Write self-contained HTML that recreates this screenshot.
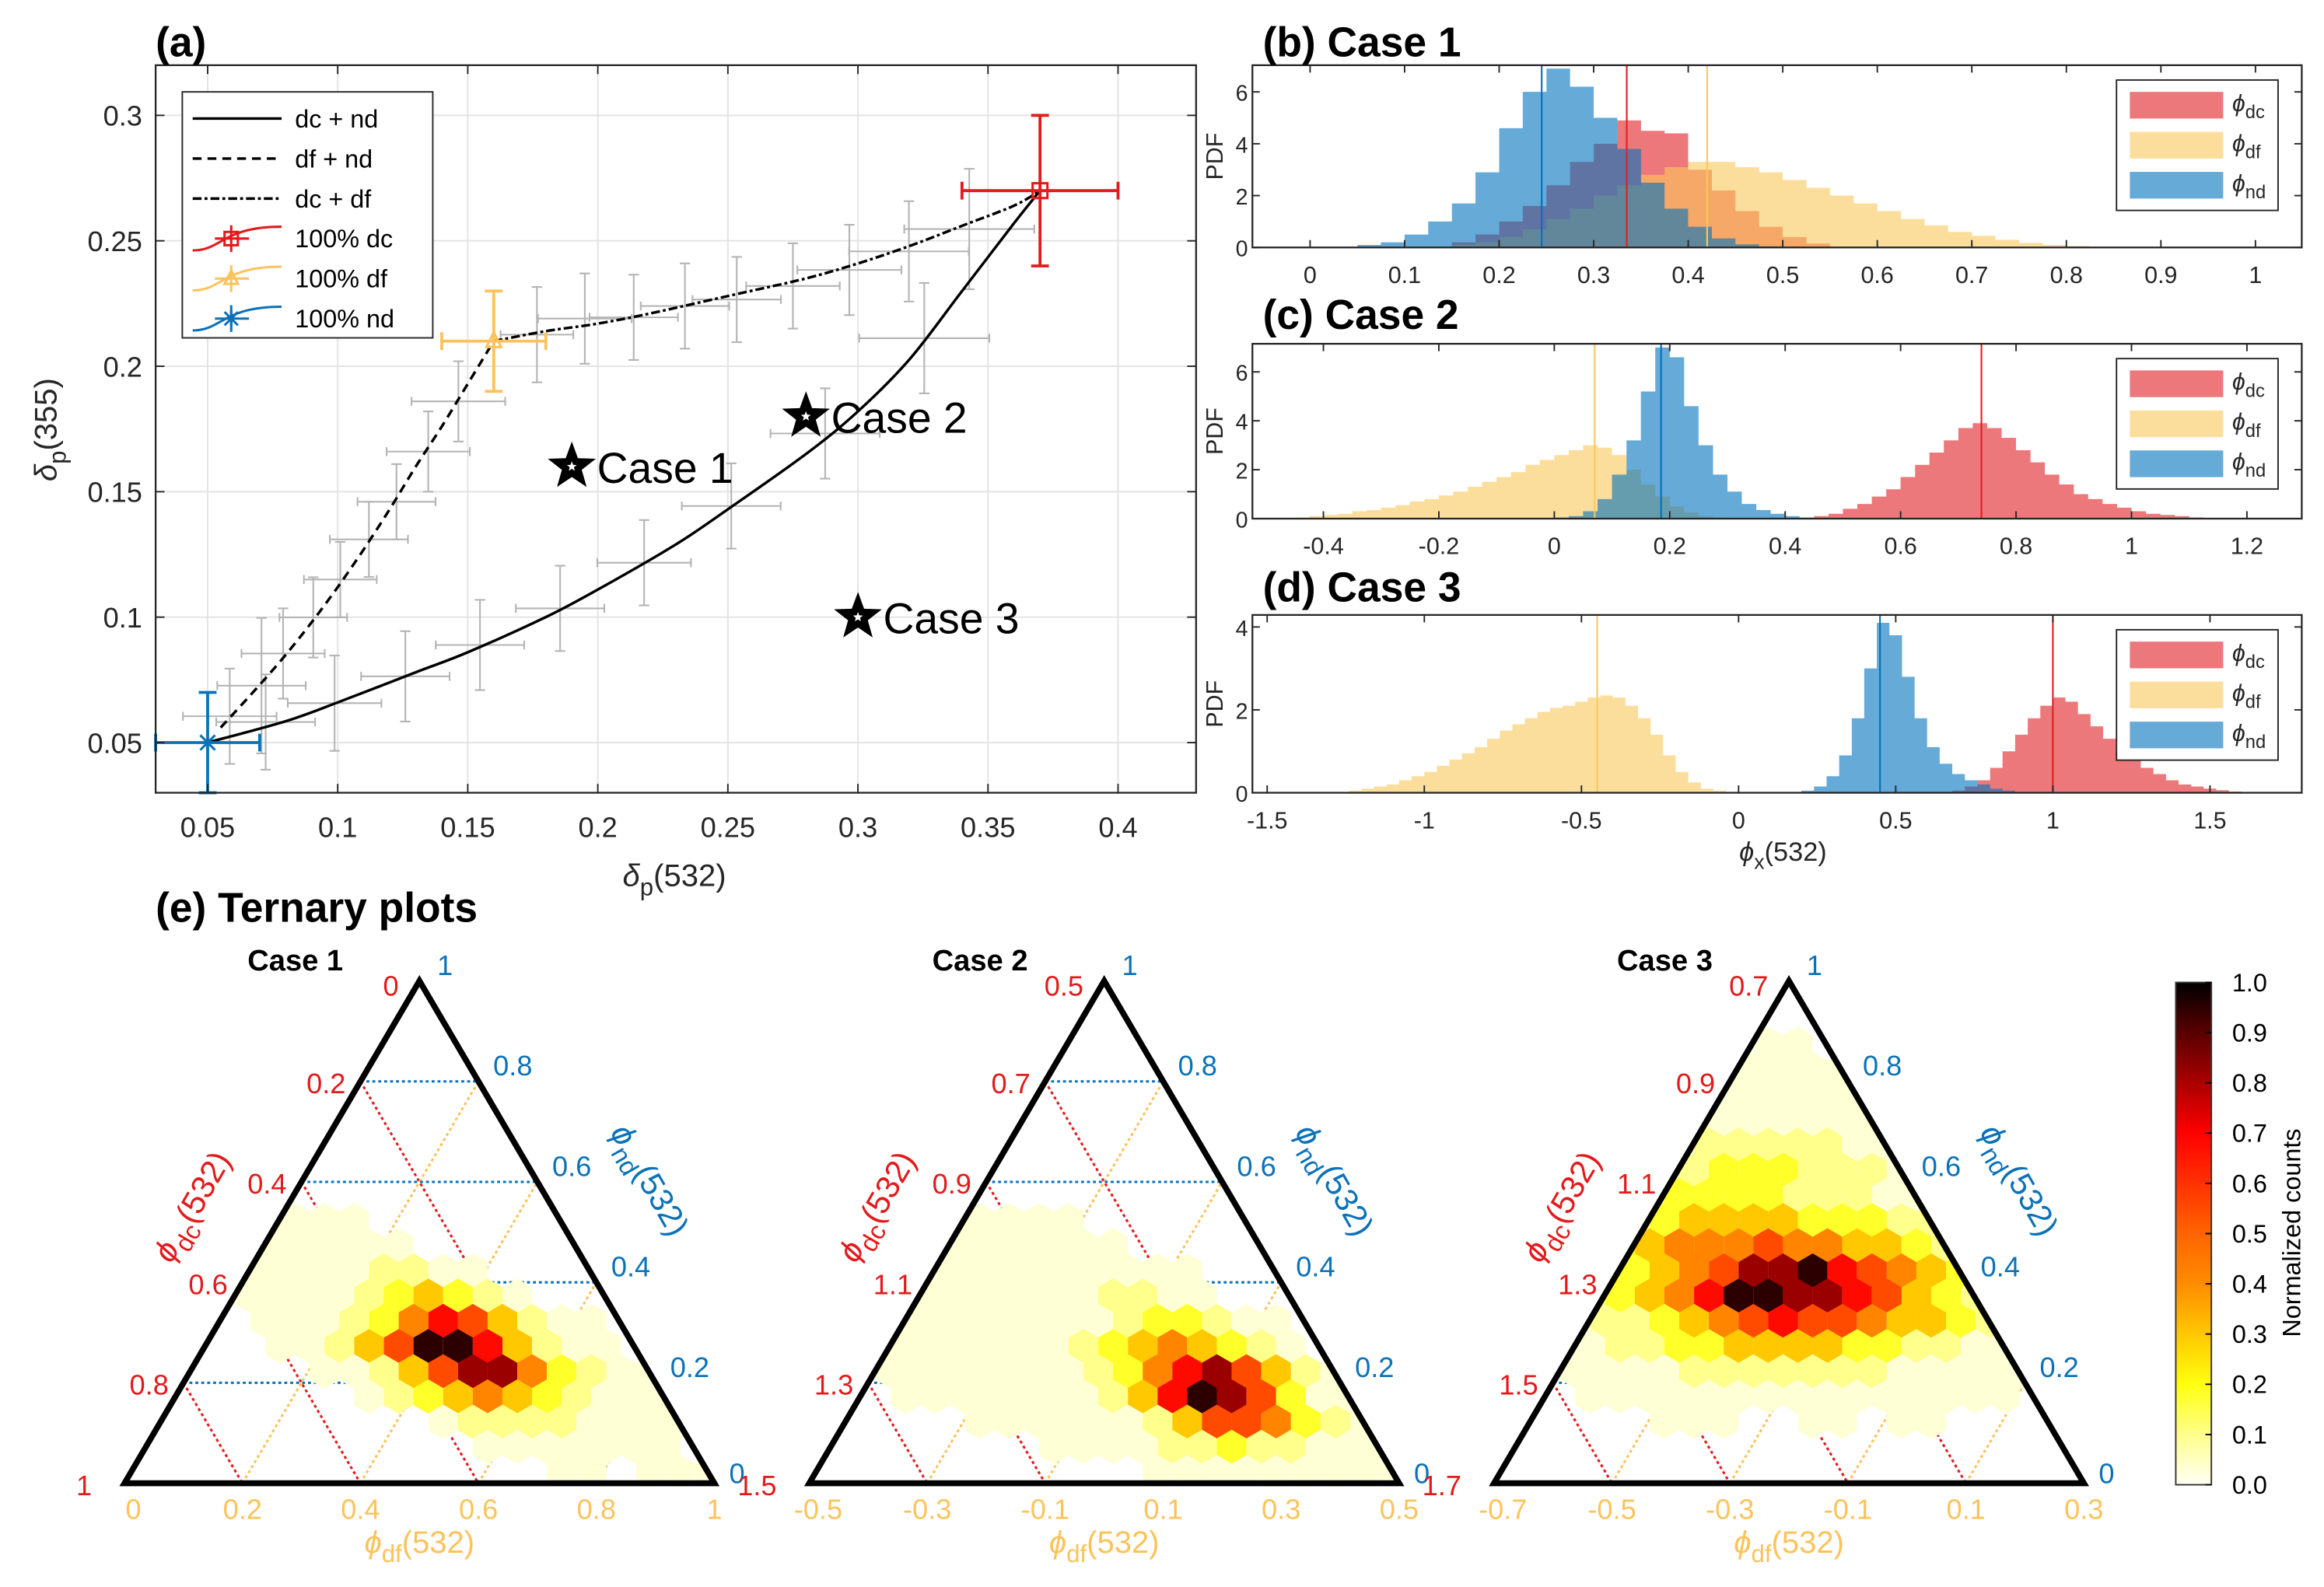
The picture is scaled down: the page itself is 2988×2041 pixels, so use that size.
<!DOCTYPE html>
<html><head><meta charset="utf-8"><style>
html,body{margin:0;padding:0;background:#fff;}
svg{display:block;}
text{font-family:"Liberation Sans",Arial,sans-serif;}
</style></head><body>
<svg id="fig" xmlns="http://www.w3.org/2000/svg" width="2988" height="2041" viewBox="0 0 1568 1071" preserveAspectRatio="none">
<defs>
<linearGradient id="cbgrad" x1="0" y1="1" x2="0" y2="0">
<stop offset="0" stop-color="#fffff5"/><stop offset="0.1" stop-color="#ffff8c"/><stop offset="0.2" stop-color="#ffff10"/>
<stop offset="0.3" stop-color="#ffc800"/><stop offset="0.4" stop-color="#ff8c00"/><stop offset="0.5" stop-color="#ff6400"/>
<stop offset="0.6" stop-color="#ff3200"/><stop offset="0.7" stop-color="#ff0000"/><stop offset="0.8" stop-color="#aa0000"/>
<stop offset="0.9" stop-color="#5a0000"/><stop offset="1" stop-color="#000000"/>
</linearGradient>
</defs>
<rect width="1568" height="1071" fill="#fff"/>
</svg>
<script>
// ---------- Panel (a) data ----------
const aSolidX=[0.05,0.08,0.1,0.13,0.15,0.18,0.2,0.23,0.25,0.28,0.3,0.32,0.34,0.36,0.37];
const aSolidY=[0.05,0.0585,0.066,0.078,0.086,0.1,0.111,0.129,0.143,0.165,0.182,0.203,0.23,0.257,0.27];
const aDashX=[0.055,0.07,0.08,0.09,0.1,0.11,0.12,0.13,0.14,0.15,0.16];
const aDashY=[0.056,0.073,0.085,0.098,0.112,0.127,0.143,0.16,0.176,0.193,0.21];
const aDDX=[0.16,0.18,0.2,0.22,0.25,0.28,0.3,0.32,0.34,0.36,0.37];
const aDDY=[0.21,0.214,0.217,0.221,0.228,0.235,0.241,0.248,0.256,0.264,0.27];
const gX=[0.0585,0.0707,0.079,0.0906,0.101,0.112,0.1226,0.1348,0.1464,0.1766,0.195,0.2138,0.2335,0.2534,0.275,0.2967,0.3196,0.3428,0.0723,0.0988,0.126,0.1547,0.1855,0.2178,0.2513,0.2874,0.3255];
const gY=[0.0605,0.0727,0.0855,0.0999,0.115,0.131,0.146,0.166,0.186,0.2126,0.219,0.2195,0.224,0.2266,0.232,0.2384,0.2458,0.2547,0.0582,0.0657,0.0764,0.0889,0.1035,0.1217,0.1443,0.1732,0.2112];
const gXe=[0.018,0.017,0.016,0.013,0.014,0.015,0.015,0.016,0.018,0.014,0.018,0.017,0.017,0.017,0.018,0.02,0.023,0.025,0.019,0.018,0.017,0.017,0.017,0.018,0.019,0.021,0.025];
const gYe=[0.019,0.027,0.018,0.016,0.015,0.015,0.015,0.016,0.016,0.019,0.018,0.017,0.017,0.017,0.017,0.018,0.02,0.024,0.019,0.019,0.018,0.018,0.017,0.017,0.017,0.018,0.022];
const emNames=['dc','df','nd'];
const emX=[0.37,0.16,0.05];
const emY=[0.27,0.21,0.05];
const emXe=[0.03,0.02,0.02];
const emYe=[0.03,0.02,0.02];
const caseNames=['Case 1','Case 2','Case 3'];
const caseX=[0.19,0.28,0.3];
const caseY=[0.16,0.18,0.1];
const aXTicks=[0.05,0.1,0.15,0.2,0.25,0.3,0.35,0.4];
const aYTicks=[0.05,0.1,0.15,0.2,0.25,0.3];

// ---------- Histogram data ----------
const bW=0.025;
const bDcStart=0.15, bDc=[0.2,0.5,1.0,1.6,2.4,3.3,4.0,4.9,4.5,4.4,3.0,2.2,1.4,0.8,0.4,0.15];
const bDfStart=0.15, bDf=[0.1,0.2,0.4,0.7,1.1,1.5,2.0,2.4,2.8,3.1,3.3,3.3,3.1,2.9,2.6,2.3,2.0,1.7,1.4,1.1,0.85,0.6,0.45,0.3,0.18,0.1,0.05];
const bNdStart=0.05, bNd=[0.1,0.2,0.5,1.0,1.7,2.9,4.6,6.0,6.9,6.2,5.0,3.8,2.5,1.5,0.8,0.35,0.12,0.04];
const cW=0.025;
const cDcStart=0.45, cDc=[0.1,0.2,0.4,0.6,0.9,1.2,1.7,2.2,2.7,3.2,3.7,3.9,3.7,3.3,2.8,2.3,1.8,1.4,1.0,0.8,0.6,0.45,0.3,0.2,0.15,0.1,0.05];
const cDfStart=-0.45, cDf=[0.05,0.1,0.15,0.2,0.3,0.35,0.45,0.55,0.7,0.8,0.95,1.1,1.3,1.5,1.7,1.9,2.2,2.4,2.6,2.8,3.0,2.9,2.6,2.0,1.4,0.9,0.5,0.25,0.1,0.05];
const cNdStart=0.0, cNd=[0.05,0.1,0.3,0.8,1.8,3.2,5.2,7.0,6.6,4.6,3.0,1.8,1.1,0.6,0.35,0.2,0.1,0.05];
const dW=0.04;
const dDfStart=-1.24, dDf=[0.05,0.1,0.15,0.2,0.3,0.4,0.5,0.65,0.8,0.95,1.1,1.3,1.5,1.65,1.8,1.95,2.05,2.1,2.2,2.3,2.35,2.3,2.1,1.8,1.4,0.9,0.5,0.25,0.1,0.05];
const dNdStart=0.2, dNd=[0.05,0.15,0.4,0.9,1.8,3.0,4.1,3.8,2.8,1.8,1.1,0.7,0.45,0.3,0.2,0.1,0.05];
const dDcStart=0.68, dDc=[0.05,0.15,0.3,0.6,1.0,1.4,1.8,2.1,2.3,2.2,1.9,1.6,1.3,1.0,0.8,0.6,0.45,0.3,0.2,0.15,0.1,0.06,0.03];
const bMed=[0.335,0.42,0.245], cMed=[0.74,0.07,0.185], dMed=[1.0,-0.45,0.45];
const bXTicks=[0,0.1,0.2,0.3,0.4,0.5,0.6,0.7,0.8,0.9,1], bYTicks=[0,2,4,6];
const cXTicks=[-0.4,-0.2,0,0.2,0.4,0.6,0.8,1,1.2], cYTicks=[0,2,4,6];
const dXTicks=[-1.5,-1,-0.5,0,0.5,1,1.5], dYTicks=[0,2,4];

// ---------- Ternary data ----------
const dcLabels=[['0','0.2','0.4','0.6','0.8','1'],['0.5','0.7','0.9','1.1','1.3','1.5'],['0.7','0.9','1.1','1.3','1.5','1.7']];
const dfLabels=[['0','0.2','0.4','0.6','0.8','1'],['-0.5','-0.3','-0.1','0.1','0.3','0.5'],['-0.7','-0.5','-0.3','-0.1','0.1','0.3']];
const ndLabels=['0','0.2','0.4','0.6','0.8','1'];
const hex1=["00000000000000000000","00000000000000000000","00000000000000000000","00000000000000000000","00000000000000000000","00000000000000000000","00000000000000000000","00000000000000000000","00000100000000000000","00001111000000000000","00011111110000000000","00011111221100000000","00011111234321000000","00001112357642110000","00000112469974211000","00000011246885321100","00000000123454321110","00000000001222211110","00000000000011111110","00000000000000110111"];
const hex2=["00000000000000000000","00000000000000000000","00000000000000000000","00000000000000000000","00000000000000000000","00000000000000000000","00000000000000000000","00000000000000000000","00000000000000000000","00001111100000000000","00011111111000000000","00111111111110000000","01111111112211000000","01111111112332110000","00111111123454321000","00111111123578642100","00011111112479863110","00000111111246653210","00000000111122322111","00000000000111111111"];
const hex3=["00000000000000000000","00000000000000000000","00000000011000000000","00000001111110000000","00000011111111000000","00000111111111100000","00001112222211110000","00011223332221111000","00112233332221111100","01122344443332211110","01223455565544322111","01233456889765432111","01223457998876432211","01122345676654432111","00112233444433221111","00111122222221111110","00011111111111111100","00000111001101100000","00000000000000000000","00000000000000000000"];
const hexGrids=[hex1,hex2,hex3];
const levels=[0,0.03,0.1,0.18,0.3,0.42,0.55,0.68,0.82,0.95];
const cbTicks=[0,0.1,0.2,0.3,0.4,0.5,0.6,0.7,0.8,0.9,1.0];

// ---------- helpers ----------
const NS='http://www.w3.org/2000/svg';
const svg=document.getElementById('fig');
function mk(tag,parent,attrs){const e=document.createElementNS(NS,tag);if(attrs)for(const k in attrs)e.setAttribute(k,attrs[k]);(parent||svg).appendChild(e);return e;}
function txt(parent,x,y,s,size,fill,anchor,weight){const t=mk('text',parent,{x:x,y:y,'font-size':size,fill:fill||'#000','text-anchor':anchor||'start','font-weight':weight||'normal'});t.textContent=s;return t;}
function fmt(v){return (Math.round(v*100)/100).toString();}

// ---------- Panel (a) ----------
const A={x0:105,x1:807,y0:44,y1:535,xmin:0.03,xmax:0.43,ymin:0.03,ymax:0.32};
const xa=v=>A.x0+(v-A.xmin)/(A.xmax-A.xmin)*(A.x1-A.x0);
const ya=v=>A.y1-(v-A.ymin)/(A.ymax-A.ymin)*(A.y1-A.y0);
const gA=mk('g');


aXTicks.forEach(v=>{const l=mk('line',gA,{x1:xa(v),x2:xa(v),y1:A.y0,y2:A.y1,stroke:'#e3e3e3','stroke-width':1});
});
aYTicks.forEach(v=>{const l=mk('line',gA,{x1:A.x0,x2:A.x1,y1:ya(v),y2:ya(v),stroke:'#e3e3e3','stroke-width':1});
});
gX.forEach((x,i)=>{const g=mk('g',gA,{stroke:'#b4b4b4','stroke-width':1.1,fill:'none'});

const cx=xa(x),cy=ya(gY[i]),xl=xa(x-gXe[i]),xr=xa(x+gXe[i]),yt=ya(gY[i]+gYe[i]),yb=ya(gY[i]-gYe[i]);
mk('line',g,{x1:xl,x2:xr,y1:cy,y2:cy});mk('line',g,{x1:cx,x2:cx,y1:yt,y2:yb});
mk('line',g,{x1:xl,x2:xl,y1:cy-3,y2:cy+3});mk('line',g,{x1:xr,x2:xr,y1:cy-3,y2:cy+3});
mk('line',g,{x1:cx-3.5,x2:cx+3.5,y1:yt,y2:yt});mk('line',g,{x1:cx-3.5,x2:cx+3.5,y1:yb,y2:yb});});
function poly(xs,ys){let d='M'+xa(xs[0]).toFixed(1)+' '+ya(ys[0]).toFixed(1);
 for(let i=1;i<xs.length;i++){const p0=[xa(xs[Math.max(i-2,0)]),ya(ys[Math.max(i-2,0)])],p1=[xa(xs[i-1]),ya(ys[i-1])],p2=[xa(xs[i]),ya(ys[i])],p3=[xa(xs[Math.min(i+1,xs.length-1)]),ya(ys[Math.min(i+1,xs.length-1)])];
  const c1=[p1[0]+(p2[0]-p0[0])/6,p1[1]+(p2[1]-p0[1])/6],c2=[p2[0]-(p3[0]-p1[0])/6,p2[1]-(p3[1]-p1[1])/6];
  d+=`C${c1[0].toFixed(1)} ${c1[1].toFixed(1)} ${c2[0].toFixed(1)} ${c2[1].toFixed(1)} ${p2[0].toFixed(1)} ${p2[1].toFixed(1)}`;}
 return d;}
const cS=mk('path',gA,{d:poly(aSolidX,aSolidY),fill:'none',stroke:'#000','stroke-width':1.8});

const cD=mk('path',gA,{d:poly(aDashX,aDashY),fill:'none',stroke:'#000','stroke-width':1.8,'stroke-dasharray':'6 4'});

const cDD=mk('path',gA,{d:poly(aDDX,aDDY),fill:'none',stroke:'#000','stroke-width':1.8,'stroke-dasharray':'6 2 2 2'});

const emCol=['#e31a1c','#fdc35a','#0b72b8'];
function marker(g,k,cx,cy,col,s){
 if(k===0)mk('rect',g,{x:cx-s,y:cy-s,width:2*s,height:2*s,fill:'none',stroke:col,'stroke-width':1.6});
 else if(k===1)mk('path',g,{d:`M${cx} ${cy-s*1.2}L${cx+s} ${cy+s*0.8}L${cx-s} ${cy+s*0.8}Z`,fill:'none',stroke:col,'stroke-width':1.6});
 else{mk('path',g,{d:`M${cx-s} ${cy-s}L${cx+s} ${cy+s}M${cx-s} ${cy+s}L${cx+s} ${cy-s}M${cx} ${cy-s*1.2}L${cx} ${cy+s*1.2}`,stroke:col,'stroke-width':1.6});}}
emX.forEach((x,i)=>{const g=mk('g',gA,{stroke:emCol[i],'stroke-width':2,fill:'none'});

const cx=xa(x),cy=ya(emY[i]),xl=xa(x-emXe[i]),xr=xa(x+emXe[i]),yt=ya(emY[i]+emYe[i]),yb=ya(emY[i]-emYe[i]);
mk('line',g,{x1:xl,x2:xr,y1:cy,y2:cy});mk('line',g,{x1:cx,x2:cx,y1:yt,y2:yb});
mk('line',g,{x1:xl,x2:xl,y1:cy-6,y2:cy+6});mk('line',g,{x1:xr,x2:xr,y1:cy-6,y2:cy+6});
mk('line',g,{x1:cx-6,x2:cx+6,y1:yt,y2:yt});mk('line',g,{x1:cx-6,x2:cx+6,y1:yb,y2:yb});
marker(g,i,cx,cy,emCol[i],5);});
function starPts(cx,cy,R,r){let p=[];for(let k=0;k<10;k++){const a=-Math.PI/2+k*Math.PI/5,rr=k%2?r:R;p.push((cx+rr*Math.cos(a)).toFixed(1)+','+(cy+rr*Math.sin(a)).toFixed(1));}return p.join(' ');}
caseX.forEach((x,i)=>{const g=mk('g',gA);
const cx=xa(x),cy=ya(caseY[i]);mk('polygon',g,{points:starPts(cx,cy,17,7),fill:'#000'});mk('polygon',g,{points:starPts(cx,cy,3.5,1.5),fill:'#fff'});
const t=txt(g,cx+17,cy+11,caseNames[i],29,'#000');});
const fr=mk('rect',gA,{x:A.x0,y:A.y0,width:A.x1-A.x0,height:A.y1-A.y0,fill:'none',stroke:'#262626','stroke-width':1.2});

aXTicks.forEach(v=>{mk('line',gA,{x1:xa(v),x2:xa(v),y1:A.y1,y2:A.y1-6,stroke:'#262626'});mk('line',gA,{x1:xa(v),x2:xa(v),y1:A.y0,y2:A.y0+6,stroke:'#262626'});
const t=txt(gA,xa(v),A.y1+30,fmt(v),19,'#262626','middle');});
aYTicks.forEach(v=>{mk('line',gA,{x1:A.x0,x2:A.x0+6,y1:ya(v),y2:ya(v),stroke:'#262626'});mk('line',gA,{x1:A.x1,x2:A.x1-6,y1:ya(v),y2:ya(v),stroke:'#262626'});
const t=txt(gA,A.x0-9,ya(v)+7,fmt(v),19,'#262626','end');});
const lg=mk('g',gA);
mk('rect',lg,{x:123,y:62,width:169,height:166,fill:'#fff',stroke:'#262626','stroke-width':1});
const lgLabels=['dc + nd','df + nd','dc + df','100% dc','100% df','100% nd'];
const lgDash=['none','6 4','6 2 2 2'];
lgLabels.forEach((s,i)=>{const y=80+i*27;
 if(i<3){mk('line',lg,{x1:130,x2:190,y1:y,y2:y,stroke:'#000','stroke-width':1.8,'stroke-dasharray':lgDash[i]});}
 else{const k=i-3,c=emCol[k];mk('path',lg,{d:`M130 ${y+8}C150 ${y+8} 150 ${y-8} 190 ${y-8}`,fill:'none',stroke:c,'stroke-width':1.6});
 mk('line',lg,{x1:145,x2:168,y1:y,y2:y,stroke:c,'stroke-width':1.6});mk('line',lg,{x1:156,x2:156,y1:y-9,y2:y+9,stroke:c,'stroke-width':1.6});marker(lg,k,156,y,c,4.5);}
 const t=txt(lg,199,y+6,s,17,'#000');});
function subLabel(parent,x,y,size,main,sub,tail,fill,anchor,rot){const t=mk('text',parent,{x:x,y:y,'font-size':size,fill:fill,'text-anchor':anchor||'middle'});
 if(rot)t.setAttribute('transform',rot);
 const a=mk('tspan',t);a.textContent=main;a.setAttribute('font-style','italic');
 const b=mk('tspan',t,{dy:size*0.3,'font-size':size*0.78});b.textContent=sub;
 const c=mk('tspan',t,{dy:-size*0.3});c.textContent=tail;return t;}
const xl=subLabel(svg,455,598,21,'δ','p','(532)','#262626');
const yl=subLabel(svg,38,290,21,'δ','p','(355)','#262626','middle','rotate(-90 38 290)');

// ---------- Histograms ----------
const histCols=['#e11e23','#fac85a','#0072bd'];
const histNames=['dc','df','nd'];
function histPanel(name,top,bot,xmin,xmax,ymax,series,meds,xt,yt){
 const g=mk('g');
 const X0=845,X1=1553;const xs=v=>X0+(v-xmin)/(xmax-xmin)*(X1-X0);const ys=v=>bot-v/ymax*(bot-top);
 series.forEach((s,k)=>{const [st,w,arr]=s;let d=`M${xs(st).toFixed(1)} ${ys(0)}`;
  arr.forEach((h,i)=>{d+=`L${xs(st+i*w).toFixed(1)} ${ys(h).toFixed(1)}L${xs(st+(i+1)*w).toFixed(1)} ${ys(h).toFixed(1)}`;});
  d+=`L${xs(st+arr.length*w).toFixed(1)} ${ys(0)}Z`;
  const p=mk('path',g,{d:d,fill:histCols[k],'fill-opacity':0.6,stroke:'none'});
  });
 meds.forEach((m,k)=>{const l=mk('line',g,{x1:xs(m),x2:xs(m),y1:top,y2:bot,stroke:histCols[k],'stroke-width':1.1});
  });
 mk('rect',g,{x:X0,y:top,width:X1-X0,height:bot-top,fill:'none',stroke:'#262626','stroke-width':1.2});
 xt.forEach(v=>{mk('line',g,{x1:xs(v),x2:xs(v),y1:bot,y2:bot-5,stroke:'#262626'});mk('line',g,{x1:xs(v),x2:xs(v),y1:top,y2:top+5,stroke:'#262626'});
  const t=txt(g,xs(v),bot+24,fmt(v),16,'#262626','middle');});
 yt.forEach(v=>{mk('line',g,{x1:X0,x2:X0+5,y1:ys(v),y2:ys(v),stroke:'#262626'});mk('line',g,{x1:X1,x2:X1-5,y1:ys(v),y2:ys(v),stroke:'#262626'});
  const t=txt(g,X0-3,ys(v)+6,String(v),15,'#262626','end');});
 const yl=txt(g,825,(top+bot)/2,'PDF',16,'#262626','middle');yl.setAttribute('transform',`rotate(-90 825 ${(top+bot)/2})`);
 
 const lg=mk('g',g);
 const ly=top+10;mk('rect',lg,{x:1428,y:ly,width:109,height:88,fill:'#fff',stroke:'#262626','stroke-width':1});
 histNames.forEach((n,k)=>{mk('rect',lg,{x:1437,y:ly+8+k*27,width:63,height:18,fill:histCols[k],'fill-opacity':0.6});
  const t=subLabel(lg,1506,ly+21+k*27,16,'ϕ',n,'','#262626','start');});
}
histPanel('panel-b-histogram',44,167,-0.061,1.049,7.03,[[bDcStart,bW,bDc],[bDfStart,bW,bDf],[bNdStart,bW,bNd]],bMed,bXTicks,bYTicks);
histPanel('panel-c-histogram',232,350,-0.523,1.295,7.15,[[cDcStart,cW,cDc],[cDfStart,cW,cDf],[cNdStart,cW,cNd]],cMed,cXTicks,cYTicks);
histPanel('panel-d-histogram',415,535,-1.547,1.792,4.29,[[dDcStart,dW,dDc],[dDfStart,dW,dDf],[dNdStart,dW,dNd]],dMed,dXTicks,dYTicks);
const dxl=subLabel(svg,1203,581,18,'ϕ','x','(532)','#262626');

// ---------- Titles ----------
const titles=[[105,38,'(a)'],[852,38,'(b) Case 1'],[852,222,'(c) Case 2'],[852,406,'(d) Case 3'],[105,622,'(e) Ternary plots']];
titles.forEach(t=>{const e=txt(svg,t[0],t[1],t[2],28,'#000','start','bold');});

// ---------- Ternary ----------
function heat(v){const st=[[0,255,255,245],[0.1,255,255,140],[0.2,255,255,16],[0.3,255,200,0],[0.4,255,140,0],[0.5,255,100,0],[0.6,255,50,0],[0.7,255,0,0],[0.8,170,0,0],[0.9,90,0,0],[1,0,0,0]];
 for(let i=1;i<st.length;i++){if(v<=st[i][0]){const a=st[i-1],b=st[i],f=(v-a[0])/(b[0]-a[0]);return `rgb(${Math.round(a[1]+f*(b[1]-a[1]))},${Math.round(a[2]+f*(b[2]-a[2]))},${Math.round(a[3]+f*(b[3]-a[3]))})`;}}return '#000';}
const triLeft=[84,546,1008];
triLeft.forEach((L0,ci)=>{
 const g=mk('g');
 const Lp=[L0,1001],Rp=[L0+398,1001],Ap=[L0+199,662];
 const lerp=(p,q,t)=>[p[0]+(q[0]-p[0])*t,p[1]+(q[1]-p[1])*t];
 [0.2,0.4,0.6,0.8].forEach(t=>{
  const p=lerp(Lp,Ap,t),q=lerp(Rp,Ap,t);
  const l=mk('line',g,{x1:p[0],y1:p[1],x2:q[0],y2:q[1],stroke:'#0b72b8','stroke-width':1.6,'stroke-dasharray':'2 2'});
  const P=lerp(Ap,Lp,t),Q=[P[0]+(1-t)*(Rp[0]-Ap[0]),1001];
  const l2=mk('line',g,{x1:P[0],y1:P[1],x2:Q[0],y2:Q[1],stroke:'#e31a1c','stroke-width':1.6,'stroke-dasharray':'2 2'});
  const B=lerp(Lp,Rp,t),E=[B[0]+(1-t)*(Ap[0]-Lp[0]),B[1]+(1-t)*(Ap[1]-Lp[1])];
  const l3=mk('line',g,{x1:B[0],y1:B[1],x2:E[0],y2:E[1],stroke:'#fdc35a','stroke-width':1.6,'stroke-dasharray':'2 2'});});
 const cpId='tri'+ci;const cp=mk('clipPath',svg.querySelector('defs'),{id:cpId});
 mk('polygon',cp,{points:`${Lp[0]-3},${Lp[1]+2} ${Rp[0]+3},${Rp[1]+2} ${Ap[0]},${Ap[1]-4}`});
 const hg=mk('g',g,{'clip-path':`url(#${cpId})`});
 const grid=hexGrids[ci],R=11.6;
 grid.forEach((row,r)=>{for(let c=0;c<row.length;c++){const d=+row[c];if(!d)continue;
  const cx=L0+20*c+10+(r%2?5:-5),cy=662+17*r+8.5;let pts=[];for(let k=0;k<6;k++){const a=Math.PI/6+k*Math.PI/3;pts.push((cx+R*Math.cos(a)).toFixed(1)+','+(cy+R*Math.sin(a)).toFixed(1));}
  const h=mk('polygon',hg,{points:pts.join(' '),fill:heat(levels[d])});}});
 const tri=mk('polygon',g,{points:`${Lp[0]},${Lp[1]} ${Rp[0]},${Rp[1]} ${Ap[0]},${Ap[1]}`,fill:'none',stroke:'#000','stroke-width':4,'stroke-linejoin':'miter'});
 
 dcLabels[ci].forEach((s,k)=>{const t=k/5,p=lerp(Ap,Lp,t);const e=txt(g,p[0]-(k===0?14:(k===5?22:10)),p[1]+(k===0?10:8),s,19,'#e31a1c','end');});
 dfLabels[ci].forEach((s,k)=>{const p=lerp(Lp,Rp,k/5);const e=txt(g,p[0]+(k===0?6:0),1025,s,19,'#fdc35a','middle');});
 ndLabels.forEach((s,k)=>{const p=lerp(Rp,Ap,k/5);const e=txt(g,p[0]+(k===5?12:10),p[1]+(k===5?-4:(k===0?0:-4)),s,19,'#0b72b8','start');});
 const t1=subLabel(g,L0+52,818,22,'ϕ','dc','(532)','#e31a1c','middle',`rotate(-60 ${L0+52} 818)`);
 const t2=subLabel(g,L0+348,800,22,'ϕ','nd','(532)','#0b72b8','middle',`rotate(60 ${L0+348} 800)`);
 const t3=subLabel(g,L0+199,1048,21,'ϕ','df','(532)','#fdc35a','middle');
 const ct=txt(g,L0+83,655,caseNames[ci],20,'#000','start','bold');
});
const cb=mk('g');
mk('rect',cb,{x:1468,y:663,width:24,height:339,fill:'url(#cbgrad)',stroke:'#333','stroke-width':1});
cbTicks.forEach(v=>{const y=1002-v*339;mk('line',cb,{x1:1488,x2:1492,y1:y,y2:y,stroke:'#000'});
 const t=txt(cb,1506,y+6,v.toFixed(1),17,'#000','start');});
const cbt=txt(cb,1552,832,'Normalized counts',17,'#000','middle');cbt.setAttribute('transform','rotate(-90 1552 832)');

</script>
</body></html>
